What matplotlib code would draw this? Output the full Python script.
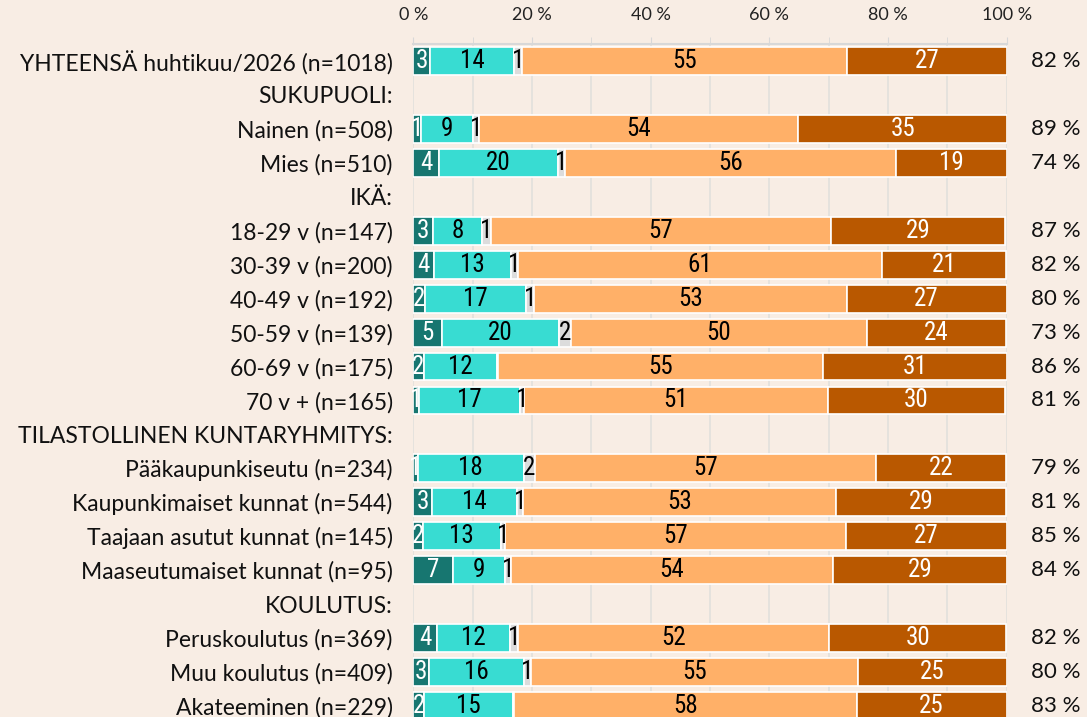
import matplotlib.pyplot as plt
from matplotlib import font_manager
import numpy as np

labels = ["YHTEENSÄ huhtikuu/2026 (n=1018)", "SUKUPUOLI:", "Nainen (n=508)", "Mies (n=510)",
          "IKÄ:", "18-29 v (n=147)", "30-39 v (n=200)", "40-49 v (n=192)", "50-59 v (n=139)",
          "60-69 v (n=175)", "70 v + (n=165)", "TILASTOLLINEN KUNTARYHMITYS:",
          "Pääkaupunkiseutu (n=234)", "Kaupunkimaiset kunnat (n=544)", "Taajaan asutut kunnat (n=145)",
          "Maaseutumaiset kunnat (n=95)", "KOULUTUS:", "Peruskoulutus (n=369)",
          "Muu koulutus (n=409)", "Akateeminen (n=229)"]

# None = group header row (no bar)
s1 = [2.8, None, 1.2, 4.3, None, 3.3, 3.5, 2.0, 4.8, 1.7, 1.0, None, 0.7, 3.1, 1.6, 6.6, None, 3.9, 2.6, 1.8]
s2 = [14.2, None, 8.8, 20.0, None, 8.3, 12.9, 17.0, 19.7, 12.3, 17.0, None, 17.9, 14.4, 13.1, 8.8, None, 12.4, 16.0, 15.0]
s3 = [1.3, None, 1.1, 1.3, None, 1.4, 1.2, 1.3, 2.0, 0.3, 0.6, None, 1.9, 1.0, 0.8, 1.0, None, 1.4, 1.2, 0.2]
s4 = [54.8, None, 53.8, 55.8, None, 57.4, 61.3, 52.7, 49.9, 54.7, 51.2, None, 57.4, 52.8, 57.4, 54.4, None, 52.4, 55.1, 57.7]
s5 = [26.9, None, 35.2, 18.6, None, 29.4, 21.0, 27.0, 23.5, 31.0, 30.0, None, 22.0, 28.6, 27.2, 29.2, None, 29.8, 25.1, 25.3]

series = [s1, s2, s3, s4, s5]
colors = ["#177670", "#38dcd2", "#dcdcdc", "#ffb068", "#b95800"]
text_colors = ["white", "black", "black", "black", "white"]

bg = "#f8ede4"
label_font = ["Lato", "DejaVu Sans"]

# pick a narrow font for the numbers if one is installed
names = {f.name for f in font_manager.fontManager.ttflist}
narrow = [n for n in ["Liberation Sans Narrow", "Roboto Condensed", "DejaVu Sans Condensed",
                      "Open Sans Condensed"] if n in names]
num_font = (narrow[:1] or ["Roboto"]) + ["DejaVu Sans"]
num_kw = dict(family=num_font)
if not narrow:
    num_kw["stretch"] = "condensed"

fig = plt.figure(figsize=(10.87, 7.17), dpi=100, facecolor=bg)
ax = fig.add_axes([0.3804, -0.0084, 0.5457, 0.947])
ax.set_facecolor(bg)

y = np.arange(len(labels))
for i, row in enumerate(y):
    if s1[i] is None:
        continue
    left = 0
    for k, s in enumerate(series):
        v = s[i]
        ax.barh(row, v, left=left, height=0.82, color=colors[k], edgecolor="white", linewidth=1.2, zorder=3)
        if round(v) >= 1:
            ax.text(left + v / 2, row, f"{round(v)}", ha="center", va="center", color=text_colors[k],
                    fontsize=18, zorder=4, **num_kw)
        left += v
    total = s4[i] + s5[i]
    ax.text(112.4, row, f"{round(total)} %", ha="right", va="center", fontsize=16,
            family=label_font, color="#111", clip_on=False)

ax.set_xlim(0, 100)
ax.set_ylim(len(labels) - 0.5, -0.5)
ax.set_yticks(y)
ax.set_yticklabels(labels, fontsize=16.5, family=label_font, color="#111")
ax.tick_params(axis="y", length=0, pad=15)

ax.xaxis.tick_top()
ax.set_xticks(np.arange(0, 101, 20))
ax.set_xticklabels([f"{t} %" for t in range(0, 101, 20)], fontsize=13, family=label_font, color="#222")
ax.set_xticks(np.arange(0, 101, 10), minor=True)
ax.tick_params(axis="x", which="both", length=5, color="#d8d8d8", pad=10, direction="out")
ax.grid(axis="x", which="both", color="#e2e0dc", linewidth=1.2, zorder=0)

for side in ["left", "right", "bottom"]:
    ax.spines[side].set_visible(False)
ax.spines["top"].set_color("#d8d8d8")
ax.spines["top"].set_linewidth(1.5)

fig.savefig("out.png", dpi=100, facecolor=bg)
